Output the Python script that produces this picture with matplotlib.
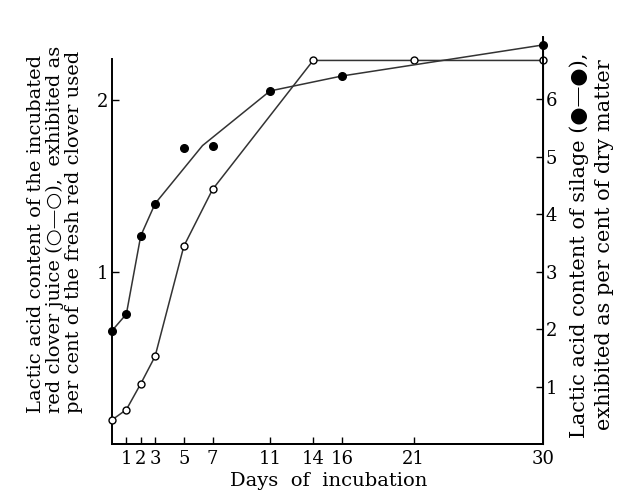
import numpy as np
import matplotlib.pyplot as plt

plt.rcParams['font.family'] = ['DejaVu Serif', 'DejaVu Sans']

# juice (open circles, left axis, per cent of fresh clover)
juice_days = [0, 1, 2, 3, 5, 7, 14, 21, 30]
juice_vals = [0.14, 0.20, 0.35, 0.51, 1.15, 1.48, 2.23, 2.23, 2.23]

# silage (filled dots, right axis, per cent of dry matter)
silage_days = [0, 1, 2, 3, 5, 7, 11, 16, 30]
silage_vals = [1.97, 2.26, 3.62, 4.18, 5.15, 5.18, 6.14, 6.40, 6.94]
# hand drawn curve through the silage points
curve_days = [0, 1, 2, 3, 6.3, 11, 16, 30]
curve_vals = [1.97, 2.26, 3.62, 4.18, 5.19, 6.14, 6.40, 6.94]

xticks = [1, 2, 3, 5, 7, 11, 14, 16, 21, 30]

fig = plt.figure(figsize=(6.19, 4.91), dpi=100)
ax = fig.add_axes([112/619, 1-444/491, 431/619, 407/491])
ax2 = ax.twinx()

lc = '#333333'
ax.plot(juice_days, juice_vals, color=lc, lw=1.1, marker='o', ms=5,
        mfc='white', mec='black', mew=1.0, clip_on=False, zorder=3)
ax2.plot(curve_days, curve_vals, color=lc, lw=1.1, clip_on=False)
ax2.plot(silage_days, silage_vals, 'o', color='black', ms=5.5, clip_on=False)

ax.set_xlim(0, 30)
ax.set_ylim(0, 444/172 - 37/172)
ax2.set_ylim(0, 407/57.5)

for a in (ax, ax2):
    a.spines['top'].set_visible(False)
    a.spines['bottom'].set_linewidth(1.4)
ax.spines['left'].set_bounds(0, 2.24)
ax.spines['left'].set_linewidth(1.4)
ax2.spines['right'].set_linewidth(1.4)
ax2.spines['left'].set_visible(False)

ax.set_xticks(xticks)
ax.set_xticklabels([str(d) for d in xticks])
ax.set_yticks([1, 2])
ax2.set_yticks([1, 2, 3, 4, 5, 6])
ax.tick_params(axis='x', direction='in', length=5, width=1, labelsize=13, pad=4)
ax.tick_params(axis='y', direction='in', length=5, width=1, labelsize=13, pad=3)
ax2.tick_params(axis='y', direction='in', length=5, width=1, labelsize=13, pad=2)
ax.xaxis.get_major_ticks()[-1].tick1line.set_visible(False)

fig.text(55/619, 1-413/491,
         'Lactic acid content of the incubated\n'
         'red clover juice (\u25cb\u2014\u25cb),  exhibited as\n'
         'per cent of the fresh red clover used',
         rotation=90, ha='center', va='bottom', multialignment='left',
         fontsize=14, linespacing=1.05)
fig.text(592/619, 1-245/491,
         'Lactic acid content of silage (\u25cf\u2014\u25cf),\n'
         'exhibited as per cent of dry matter',
         rotation=90, ha='center', va='center', multialignment='center',
         fontsize=15, linespacing=1.4)
fig.text(329/619, 1-481/491, 'Days  of  incubation', ha='center', va='center',
         fontsize=14)

fig.savefig('out.png', dpi=100)
